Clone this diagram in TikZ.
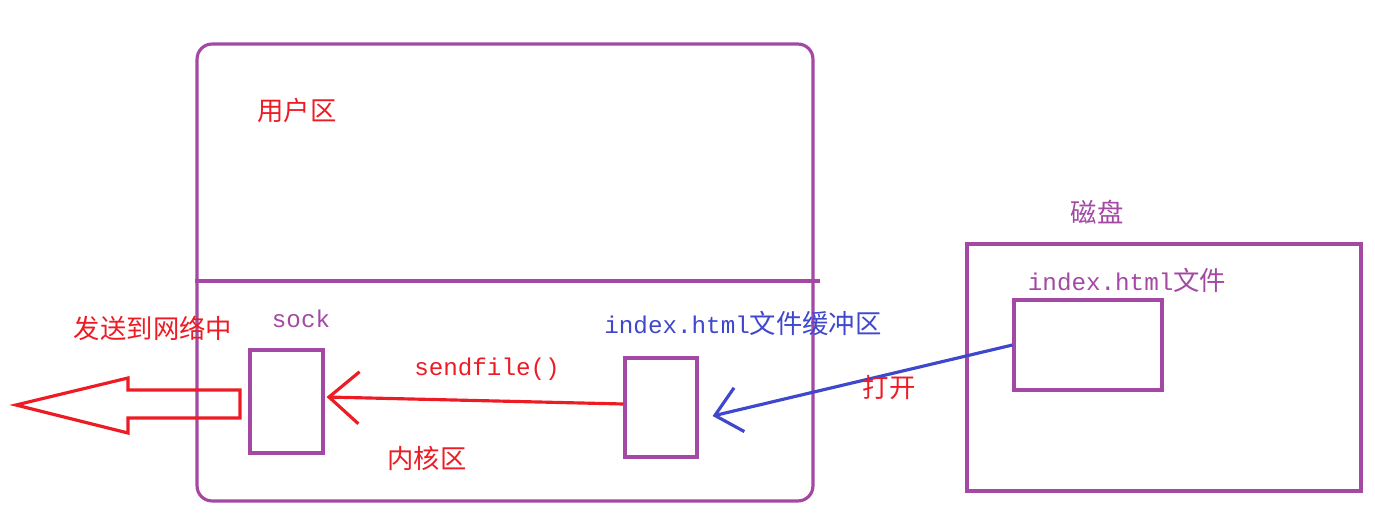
\documentclass[tikz,border=0pt]{standalone}
\usepackage{fontspec}
\setmainfont{Liberation Mono}
\newfontfamily\cjk{Noto Sans CJK SC}
\usepackage{tikz}
\usetikzlibrary{positioning,arrows.meta}

\definecolor{paintpurple}{RGB}{163,73,164}
\definecolor{paintred}{RGB}{237,28,36}
\definecolor{paintblue}{RGB}{63,72,204}

\newcommand{\zh}[1]{{\cjk\fontsize{15}{18}\selectfont #1}}
\newcommand{\en}[1]{{\fontsize{13.8}{16}\selectfont #1}}

\begin{document}
\begin{tikzpicture}[
  x=0.02cm, y=-0.02cm,
  pbox/.style={draw=paintpurple, line width=1.8pt, inner sep=0pt},
  lbl/.style={inner sep=0pt, anchor=center},
  redarr/.style={draw=paintred, line width=1.8pt,
                 -{Straight Barb[length=0.6cm, width=1.04cm, line width=1.8pt]}},
  bluearr/.style={draw=paintblue, line width=1.8pt,
                  -{Straight Barb[length=0.5cm, width=0.9cm, line width=1.8pt]}},
]
  \useasboundingbox (0,0) rectangle (1375,527);

  % kernel / user space
  \node[pbox, rounded corners=0.3cm, minimum width=12.32cm, minimum height=9.14cm]
    (frame) at (505,272.5) {};
  \coordinate (divR) at (820,281);
  \draw[paintpurple, line width=1.8pt] (frame.west |- divR) -- (divR);
  \node[lbl, text=paintred] (user) at (297,110) {\zh{用户区}};
  \node[lbl, text=paintred] (kern) at (427,458) {\zh{内核区}};

  % socket and buffer
  \node[pbox, minimum width=1.46cm, minimum height=2.06cm] (sock) at (286.5,401.5) {};
  \node[lbl, text=paintpurple] (socklbl) at (301,319) {\en{sock}};
  \node[pbox, minimum width=1.44cm, minimum height=1.98cm] (buf) at (661,407.5) {};
  \node[lbl, text=paintblue] (buflbl) at (743,323) {\en{index.html}\zh{文件缓冲区}};

  % disk
  \node[pbox, minimum width=7.88cm, minimum height=4.94cm] (disk) at (1164,367.5) {};
  \node[lbl, text=paintpurple] (disklbl) at (1097,212) {\zh{磁盘}};
  \node[pbox, minimum width=2.96cm, minimum height=1.8cm] (file) at (1088,345) {};
  \node[lbl, text=paintpurple] (filelbl) at (1127,280) {\en{index.html}\zh{文件}};

  % connectors
  \draw[redarr] ([yshift=0.07cm]buf.west) -- ([xshift=0.04cm,yshift=0.09cm]sock.east);
  \node[lbl, text=paintred] (sendlbl) at (487,369) {\en{sendfile()}};
  \draw[bluearr] (file.west) -- ([xshift=0.28cm,yshift=-0.17cm]buf.east);
  \node[lbl, text=paintred] (openlbl) at (889,388) {\zh{打开}};

  % send to network
  \draw[paintred, line width=1.8pt]
    (240,390) -- (128,390) -- (128,378) -- (16,405) -- (128,433)
    -- (128,418) -- (240,418) -- cycle;
  \node[lbl, text=paintred] (netlbl) at (153,328) {\zh{发送到网络中}};
\end{tikzpicture}
\end{document}
